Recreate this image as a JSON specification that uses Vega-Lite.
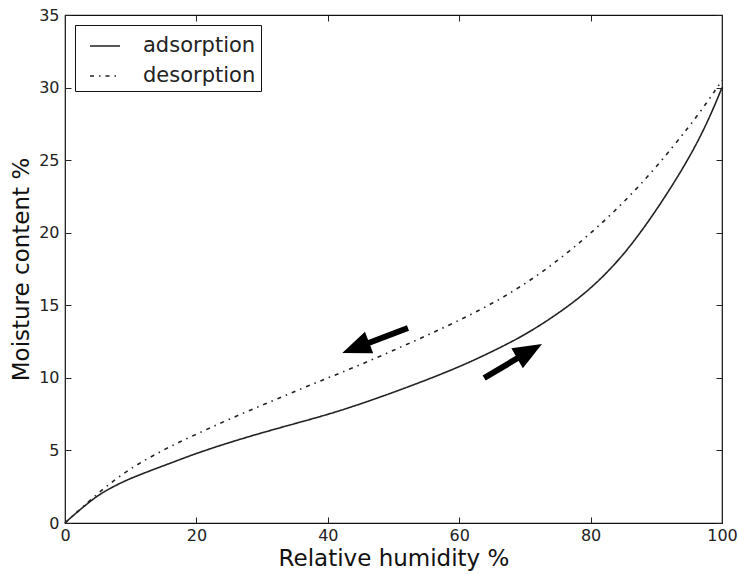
{
  "$schema": "https://vega.github.io/schema/vega-lite/v6.json",
  "width": 657,
  "height": 508,
  "autosize": {"type": "none"},
  "padding": {"left": 65, "top": 15, "right": 16, "bottom": 51},
  "config": {
    "font": "DejaVu Sans",
    "view": {"stroke": "#111", "strokeWidth": 1.2},
    "axis": {"grid": false, "domain": false, "tickColor": "#222", "labelColor": "#222", "titleColor": "#111", "labelFont": "DejaVu Sans", "titleFont": "DejaVu Sans", "titleFontWeight": "normal", "labelFlush": false}
  },
  "datasets": {
    "curves": [
      {"series": "adsorption", "rh": 0, "mc": 0},
      {"series": "adsorption", "rh": 1, "mc": 0.42},
      {"series": "adsorption", "rh": 2.5, "mc": 1.0},
      {"series": "adsorption", "rh": 5, "mc": 1.92},
      {"series": "adsorption", "rh": 7.5, "mc": 2.55},
      {"series": "adsorption", "rh": 10, "mc": 3.08},
      {"series": "adsorption", "rh": 12.5, "mc": 3.52},
      {"series": "adsorption", "rh": 15, "mc": 3.95},
      {"series": "adsorption", "rh": 17.5, "mc": 4.37},
      {"series": "adsorption", "rh": 20, "mc": 4.8},
      {"series": "adsorption", "rh": 25, "mc": 5.55},
      {"series": "adsorption", "rh": 30, "mc": 6.22},
      {"series": "adsorption", "rh": 35, "mc": 6.85},
      {"series": "adsorption", "rh": 40, "mc": 7.47},
      {"series": "adsorption", "rh": 45, "mc": 8.2},
      {"series": "adsorption", "rh": 50, "mc": 9.0},
      {"series": "adsorption", "rh": 55, "mc": 9.85},
      {"series": "adsorption", "rh": 60, "mc": 10.75},
      {"series": "adsorption", "rh": 65, "mc": 11.8},
      {"series": "adsorption", "rh": 70, "mc": 12.95},
      {"series": "adsorption", "rh": 75, "mc": 14.4},
      {"series": "adsorption", "rh": 80, "mc": 16.1},
      {"series": "adsorption", "rh": 85, "mc": 18.4},
      {"series": "adsorption", "rh": 90, "mc": 21.5},
      {"series": "adsorption", "rh": 95, "mc": 25.1},
      {"series": "adsorption", "rh": 98, "mc": 27.8},
      {"series": "adsorption", "rh": 100, "mc": 30.0},
      {"series": "desorption", "rh": 0, "mc": 0},
      {"series": "desorption", "rh": 1, "mc": 0.42},
      {"series": "desorption", "rh": 2.5, "mc": 1.02},
      {"series": "desorption", "rh": 5, "mc": 2.05},
      {"series": "desorption", "rh": 7.5, "mc": 2.95},
      {"series": "desorption", "rh": 10, "mc": 3.75},
      {"series": "desorption", "rh": 12.5, "mc": 4.42},
      {"series": "desorption", "rh": 15, "mc": 5.03},
      {"series": "desorption", "rh": 17.5, "mc": 5.6},
      {"series": "desorption", "rh": 20, "mc": 6.12},
      {"series": "desorption", "rh": 25, "mc": 7.16},
      {"series": "desorption", "rh": 30, "mc": 8.12},
      {"series": "desorption", "rh": 35, "mc": 9.07},
      {"series": "desorption", "rh": 40, "mc": 10.0},
      {"series": "desorption", "rh": 45, "mc": 10.9},
      {"series": "desorption", "rh": 50, "mc": 11.9},
      {"series": "desorption", "rh": 55, "mc": 12.9},
      {"series": "desorption", "rh": 60, "mc": 13.96},
      {"series": "desorption", "rh": 65, "mc": 15.1},
      {"series": "desorption", "rh": 70, "mc": 16.45},
      {"series": "desorption", "rh": 75, "mc": 18.06},
      {"series": "desorption", "rh": 80, "mc": 19.94},
      {"series": "desorption", "rh": 85, "mc": 22.05},
      {"series": "desorption", "rh": 90, "mc": 24.5},
      {"series": "desorption", "rh": 95, "mc": 27.3},
      {"series": "desorption", "rh": 98, "mc": 29.15},
      {"series": "desorption", "rh": 100, "mc": 30.5}
    ],
    "arrows": [
      {"dir": "drying", "tail_rh": 52.2, "tail_mc": 13.44, "neck_rh": 44.7, "neck_mc": 12.14, "tip_rh": 42.2, "tip_mc": 11.72},
      {"dir": "wetting", "tail_rh": 63.8, "tail_mc": 9.99, "neck_rh": 70.2, "neck_mc": 11.71, "tip_rh": 72.6, "tip_mc": 12.34}
    ]
  },
  "resolve": {"axis": {"x": "independent", "y": "independent"}},
  "layer": [
    {
      "data": {"name": "curves"},
      "mark": {"type": "line", "interpolate": "basis", "strokeWidth": 1.6, "color": "#222"},
      "encoding": {
        "x": {"field": "rh", "type": "quantitative", "scale": {"domain": [0, 100], "nice": false, "zero": false},
          "axis": {"orient": "bottom", "values": [0, 20, 40, 60, 80, 100], "tickSize": -6, "labelPadding": 10, "labelFontSize": 16, "title": "Relative humidity %", "titleFontSize": 23, "titlePadding": 4}},
        "y": {"field": "mc", "type": "quantitative", "scale": {"domain": [0, 35], "nice": false},
          "axis": {"orient": "left", "values": [0, 5, 10, 15, 20, 25, 30, 35], "tickSize": -6, "labelPadding": 12, "labelFontSize": 16, "title": "Moisture content %", "titleFontSize": 23, "titlePadding": 5}},
        "strokeDash": {"field": "series", "type": "nominal",
          "scale": {"domain": ["adsorption", "desorption"], "range": [[1, 0], [4, 5, 1.5, 5]]},
          "legend": {"orient": "none", "legendX": 10, "legendY": 10, "title": null, "symbolType": "stroke", "symbolSize": 900, "symbolStrokeWidth": 1.6, "symbolStrokeColor": "#222", "labelFontSize": 21, "labelColor": "#222", "labelOffset": 22, "symbolOffset": 9, "padding": 5, "strokeColor": "#111", "fillColor": "white", "cornerRadius": 0, "rowPadding": 4}}
      }
    },
    {
      "data": {"name": "arrows"},
      "mark": {"type": "rule", "strokeWidth": 6, "color": "black", "strokeCap": "butt"},
      "encoding": {
        "x": {"field": "tail_rh", "type": "quantitative", "axis": {"orient": "top", "values": [0, 20, 40, 60, 80, 100], "tickSize": -6, "labels": false, "title": null}},
        "y": {"field": "tail_mc", "type": "quantitative", "axis": {"orient": "right", "values": [0, 5, 10, 15, 20, 25, 30, 35], "tickSize": -6, "labels": false, "title": null}},
        "x2": {"field": "neck_rh"},
        "y2": {"field": "neck_mc"}
      }
    },
    {
      "data": {"name": "arrows"},
      "transform": [{"filter": "datum.dir === 'drying'"}],
      "mark": {"type": "point", "shape": "M0,0L0.4,1L-0.4,1Z", "filled": true, "size": 3300, "color": "black", "opacity": 1, "angle": 249},
      "encoding": {
        "x": {"field": "tip_rh", "type": "quantitative", "axis": null},
        "y": {"field": "tip_mc", "type": "quantitative", "axis": null}
      }
    },
    {
      "data": {"name": "arrows"},
      "transform": [{"filter": "datum.dir === 'wetting'"}],
      "mark": {"type": "point", "shape": "M0,0L0.4,1L-0.4,1Z", "filled": true, "size": 3300, "color": "black", "opacity": 1, "angle": 60},
      "encoding": {
        "x": {"field": "tip_rh", "type": "quantitative", "axis": null},
        "y": {"field": "tip_mc", "type": "quantitative", "axis": null}
      }
    }
  ]
}
